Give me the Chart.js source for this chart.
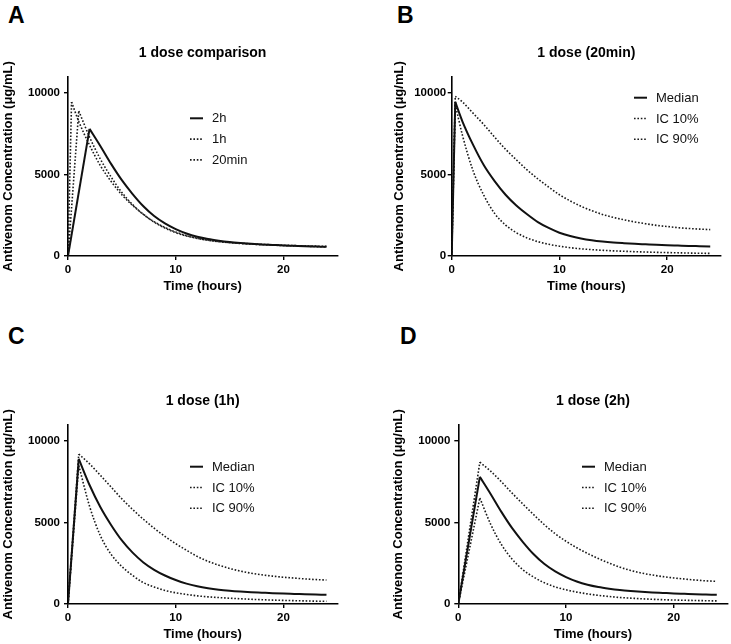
<!DOCTYPE html>
<html>
<head>
<meta charset="utf-8">
<script src="https://cdn.jsdelivr.net/npm/chart.js@4.4.1/dist/chart.umd.min.js"></script>
<style>
  body { margin: 0; background: #fff; width: 731px; height: 644px; position: relative; overflow: hidden; }
  canvas { position: absolute; }
  .letter { position: absolute; font: bold 23px "Liberation Sans", Arial, sans-serif; line-height: 23px; color: #000; }
</style>
</head>
<body>
<div class="letter" style="left:8px;top:4px">A</div>
<div class="letter" style="left:397px;top:4px">B</div>
<div class="letter" style="left:8px;top:325px">C</div>
<div class="letter" style="left:400px;top:325px">D</div>

<canvas id="chartA" width="340" height="296" style="left:0;top:0"></canvas>
<canvas id="chartB" width="340" height="296" style="left:391px;top:0"></canvas>
<canvas id="chartC" width="340" height="296" style="left:0;top:348px"></canvas>
<canvas id="chartD" width="340" height="296" style="left:391px;top:348px"></canvas>

<script>
// axis ticks
const xTicks = [0, 10, 20];
const yTicks = [0, 5000, 10000];

// 20 min infusion (panel B)
const time20min = [0, 0.33, 1, 2, 3, 4, 5, 6, 7, 8, 9, 10, 11, 12, 13, 14, 15, 16, 17, 18, 19, 20, 21, 22, 23, 24];
const median20min = [0, 9450, 8250, 6800, 5550, 4580, 3760, 3100, 2560, 2080, 1720, 1430, 1230, 1080, 970, 890, 830, 785, 745, 715, 685, 660, 640, 620, 605, 590];
const ic10_20min = [0, 9800, 9450, 8750, 8050, 7280, 6550, 5900, 5280, 4730, 4230, 3760, 3380, 3050, 2780, 2550, 2370, 2220, 2090, 1980, 1880, 1810, 1740, 1690, 1650, 1620];
const ic90_20min = [0, 9300, 7400, 5200, 3700, 2600, 1900, 1430, 1110, 880, 720, 600, 510, 440, 390, 350, 315, 290, 265, 245, 225, 210, 195, 180, 170, 160];

// 1 h infusion (panel C)
const time1h = [0, 1, 2, 3, 4, 5, 6, 7, 8, 9, 10, 11, 12, 13, 14, 15, 16, 17, 18, 19, 20, 21, 22, 23, 24];
const median1h = [0, 8900, 7300, 5950, 4850, 3900, 3150, 2550, 2100, 1750, 1470, 1250, 1090, 970, 880, 815, 765, 725, 695, 665, 640, 620, 600, 580, 560];
const ic10_1h = [0, 9200, 8600, 7900, 7180, 6450, 5800, 5200, 4650, 4150, 3700, 3300, 2920, 2620, 2380, 2180, 2020, 1890, 1790, 1710, 1640, 1590, 1540, 1500, 1470];
const ic90_1h = [0, 8500, 6000, 4200, 3050, 2300, 1750, 1310, 1040, 830, 690, 590, 500, 440, 395, 355, 320, 290, 265, 240, 220, 205, 190, 175, 165];

// 2 h infusion (panel D)
const time2h = [0, 2, 3, 4, 5, 6, 7, 8, 9, 10, 11, 12, 13, 14, 15, 16, 17, 18, 19, 20, 21, 22, 23, 24];
const median2h = [0, 7800, 6750, 5650, 4650, 3800, 3050, 2450, 2000, 1650, 1380, 1180, 1040, 940, 860, 800, 750, 710, 680, 650, 625, 600, 580, 560];
const ic10_2h = [0, 8700, 8150, 7500, 6800, 6130, 5480, 4860, 4310, 3850, 3450, 3100, 2790, 2510, 2260, 2060, 1900, 1780, 1680, 1600, 1530, 1470, 1420, 1390];
const ic90_2h = [0, 6500, 4900, 3650, 2750, 2100, 1650, 1300, 1050, 870, 730, 620, 530, 460, 400, 360, 320, 290, 265, 245, 230, 215, 200, 190];

const FONT = '"Liberation Sans", Arial, sans-serif';
const SOLID = { borderColor: '#111', borderWidth: 2, borderDash: [] };
const DOTTED = { borderColor: '#1a1a1a', borderWidth: 1.6, borderDash: [1.6, 1.8] };

// one curve = straight infusion ramp + smooth decay after the peak
function curve(label, times, values, style) {
    const pts = times.map((t, i) => ({ x: t, y: values[i] }));
    return [
        Object.assign({ label: label, data: pts.slice(0, 2), tension: 0, inLegend: false }, style),
        Object.assign({ label: label, data: pts.slice(1), cubicInterpolationMode: 'monotone', inLegend: true }, style)
    ];
}

// draws the panel title and the in-plot legend
const panelDecor = {
    id: 'panelDecor',
    afterDraw(chart, args, opts) {
        const ctx = chart.ctx;
        const area = chart.chartArea;
        ctx.save();
        ctx.fillStyle = '#000';
        ctx.textBaseline = 'middle';
        ctx.textAlign = 'center';
        ctx.font = 'bold 14px ' + FONT;
        ctx.fillText(opts.title, (area.left + area.right) / 2, opts.titleY);

        ctx.textAlign = 'left';
        ctx.font = '13px ' + FONT;
        chart.data.datasets.filter(ds => ds.inLegend).forEach((ds, i) => {
            const y = opts.legendY + i * 20.8;
            ctx.beginPath();
            ctx.setLineDash(ds.borderDash);
            ctx.lineWidth = ds.borderWidth;
            ctx.strokeStyle = ds.borderColor;
            ctx.moveTo(opts.legendX, y);
            ctx.lineTo(opts.legendX + 13, y);
            ctx.stroke();
            ctx.fillStyle = '#111';
            ctx.fillText(ds.label, opts.legendX + 22, y + 0.5);
        });
        ctx.restore();
    }
};

function makeChart(id, datasets, title, layout) {
    return new Chart(document.getElementById(id), {
        type: 'line',
        data: { datasets: datasets },
        options: {
            responsive: false,
            animation: false,
            layout: { padding: { top: 76.7, right: layout.padRight, left: 0, bottom: 0 } },
            elements: { point: { radius: 0 } },
            plugins: {
                legend: { display: false },
                tooltip: { enabled: false },
                panelDecor: { title: title, titleY: 53, legendX: layout.legendX, legendY: layout.legendY }
            },
            scales: {
                x: {
                    type: 'linear',
                    min: 0,
                    max: 25,
                    afterBuildTicks: s => { s.ticks = xTicks.map(v => ({ value: v })); },
                    afterFit: s => { s.height = 40; },
                    border: { color: '#000', width: 1.6 },
                    grid: { drawOnChartArea: false, color: '#000', lineWidth: 1.4, tickLength: 4 },
                    ticks: { color: '#000', font: { family: FONT, size: 11.5, weight: 'bold' }, padding: 3, maxRotation: 0, callback: v => String(v) },
                    title: { display: true, text: 'Time (hours)', color: '#000', font: { family: FONT, size: 13, weight: 'bold' }, padding: { top: 0, bottom: 2 } }
                },
                y: {
                    type: 'linear',
                    min: 0,
                    max: 11000,
                    afterBuildTicks: s => { s.ticks = yTicks.map(v => ({ value: v })); },
                    afterFit: s => { s.width = layout.yWidth; },
                    border: { color: '#000', width: 1.6 },
                    grid: { drawOnChartArea: false, color: '#000', lineWidth: 1.4, tickLength: 4 },
                    ticks: { color: '#000', font: { family: FONT, size: 11.5, weight: 'bold' }, padding: layout.yPad, callback: v => String(v) },
                    title: { display: true, text: 'Antivenom Concentration (\u03bcg/mL)', color: '#000', font: { family: FONT, size: 13, weight: 'bold' }, padding: { top: layout.yTitlePad, bottom: 0 } }
                }
            }
        },
        plugins: [panelDecor]
    });
}

makeChart('chartA', [].concat(
    curve('2h', time2h, median2h, SOLID),
    curve('1h', time1h, median1h, DOTTED),
    curve('20min', time20min, median20min, DOTTED)
), '1 dose comparison', { yWidth: 68, padRight: 2.75, yPad: 4, yTitlePad: 0.5, legendX: 190, legendY: 118.3 });

makeChart('chartB', [].concat(
    curve('Median', time20min, median20min, SOLID),
    curve('IC 10%', time20min, ic10_20min, DOTTED),
    curve('IC 90%', time20min, ic90_20min, DOTTED)
), '1 dose (20min)', { yWidth: 60.7, padRight: 10, yPad: 1.5, yTitlePad: 0.2, legendX: 243, legendY: 97.7 });

makeChart('chartC', [].concat(
    curve('Median', time1h, median1h, SOLID),
    curve('IC 10%', time1h, ic10_1h, DOTTED),
    curve('IC 90%', time1h, ic90_1h, DOTTED)
), '1 dose (1h)', { yWidth: 68, padRight: 2.75, yPad: 4, yTitlePad: 0.5, legendX: 190, legendY: 118.7 });

makeChart('chartD', [].concat(
    curve('Median', time2h, median2h, SOLID),
    curve('IC 10%', time2h, ic10_2h, DOTTED),
    curve('IC 90%', time2h, ic90_2h, DOTTED)
), '1 dose (2h)', { yWidth: 67.3, padRight: 3.45, yPad: 4, yTitlePad: 0, legendX: 191, legendY: 118.7 });
</script>
</body>
</html>
